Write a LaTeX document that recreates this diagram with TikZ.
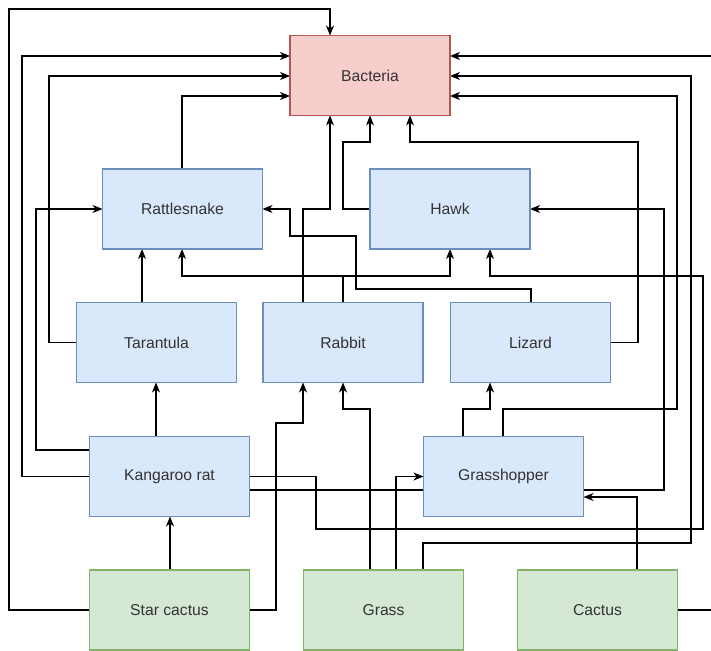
\documentclass[tikz,border=0pt]{standalone}
\usepackage{fontspec}
\setmainfont{Liberation Sans}
\usetikzlibrary{arrows.meta,calc}
\pgfdeclarelayer{bg}
\pgfsetlayers{bg,main}
\definecolor{bacfill}{HTML}{F8CECC}
\definecolor{bacdraw}{HTML}{B85450}
\definecolor{bluefill}{HTML}{DAE8FC}
\definecolor{bluedraw}{HTML}{6C8EBF}
\definecolor{greenfill}{HTML}{D5E8D4}
\definecolor{greendraw}{HTML}{82B366}
\definecolor{txt}{HTML}{333333}
\begin{document}
\begin{tikzpicture}[x=1pt,y=-1pt,
  box/.style={line width=1.1pt, minimum width=160pt, minimum height=80pt,
    inner sep=0pt, outer sep=0pt, text=txt, font=\fontsize{15.7}{18}\selectfont},
  bacbox/.style={box, draw=bacdraw, fill=bacfill},
  animal/.style={box, draw=bluedraw, fill=bluefill},
  plant/.style={box, draw=greendraw, fill=greenfill},
  arr/.style={draw=black, line width=1.1pt, -{Stealth[length=10pt,width=8pt,inset=3pt]}}
  ]
\useasboundingbox (0,0) rectangle (711,650);
\node[bacbox] (bac) at (370,75.5) {Bacteria};
\node[animal] (rs) at (182.5,209) {Rattlesnake};
\node[animal] (hawk) at (450,209) {Hawk};
\node[animal] (tar) at (156.5,342.5) {Tarantula};
\node[animal] (rab) at (343,342.5) {Rabbit};
\node[animal] (liz) at (530.5,342.5) {Lizard};
\node[animal] (kr) at (169.5,476.5) {Kangaroo rat};
\node[animal] (gh) at (503.5,476.5) {Grasshopper};
\node[plant] (sc) at (169.5,610) {Star cactus};
\node[plant] (gr) at (383.5,610) {Grass};
\node[plant] (cac) at (597.5,610) {Cactus};
\begin{pgfonlayer}{bg}
\begin{scope}
\clip (0,0) rectangle (711,650);
% Star cactus -> Bacteria
\draw[arr] (sc.west) -| (9,9) -| (330,0 |- bac.north);
% Kangaroo rat -> Bacteria
\draw[arr] (kr.west) -| (22,56) -- (bac.west |- 0,56);
% Tarantula -> Bacteria
\draw[arr] (tar.west) -| (49,76) -- (bac.west |- 0,76);
% Rattlesnake -> Bacteria
\draw[arr] (182,0 |- rs.north) |- (bac.west |- 0,96);
% Kangaroo rat -> Rattlesnake
\draw[arr] (kr.west |- 0,450) -| (36,209) -- (rs.west);
% Lizard -> Rattlesnake
\draw[arr] (531,0 |- liz.north) |- (356,289) |- (290,236) |- (rs.east);
% Rabbit -> Bacteria
\draw[arr] (303,0 |- rab.north) |- (330,209) -- (330,0 |- bac.south);
% Hawk -> Bacteria
\draw[arr] (hawk.west) -| (343,142) -| (bac.south);
% Lizard -> Bacteria
\draw[arr] (liz.east) -| (638,142) -| (410,0 |- bac.south);
% Cactus -> Bacteria
\draw[arr] (cac.east) -| (730,56) -- (bac.east |- 0,56);
% Grass -> Bacteria
\draw[arr] (423,0 |- gr.north) |- (691,543) |- (bac.east |- 0,76);
% Grasshopper -> Bacteria
\draw[arr] (503,0 |- gh.north) |- (677,409) |- (bac.east |- 0,96);
% Kangaroo rat -> Hawk (bottom)
\draw[arr] (kr.east) -| (316,529) -| (703,276) -| (490,0 |- hawk.south);
% Kangaroo rat -> Hawk (right)
\draw[arr] (kr.east |- 0,490) -| (664,209) -- (hawk.east);
% Rabbit -> Rattlesnake
\draw[arr] (rab.north) |- (182,276) -- (182,0 |- rs.south);
% Rabbit -> Hawk
\draw[arr] (rab.north) |- (450,276) -- (hawk.south);
% Tarantula -> Rattlesnake
\draw[arr] (142,0 |- tar.north) -- (142,0 |- rs.south);
% Kangaroo rat -> Tarantula
\draw[arr] (156,0 |- kr.north) -- (156,0 |- tar.south);
% Star cactus -> Kangaroo rat
\draw[arr] (170,0 |- sc.north) -- (170,0 |- kr.south);
% Star cactus -> Rabbit
\draw[arr] (sc.east) -| (276,423) -| (303,0 |- rab.south);
% Grass -> Rabbit
\draw[arr] (370,0 |- gr.north) |- (343,409) -- (rab.south);
% Grass -> Grasshopper
\draw[arr] (396,0 |- gr.north) |- (gh.west);
% Grasshopper -> Lizard
\draw[arr] (463,0 |- gh.north) |- (490,409) -- (490,0 |- liz.south);
% Cactus -> Grasshopper
\draw[arr] (637,0 |- cac.north) |- (gh.east |- 0,497);
\end{scope}
\end{pgfonlayer}
\end{tikzpicture}
\end{document}
